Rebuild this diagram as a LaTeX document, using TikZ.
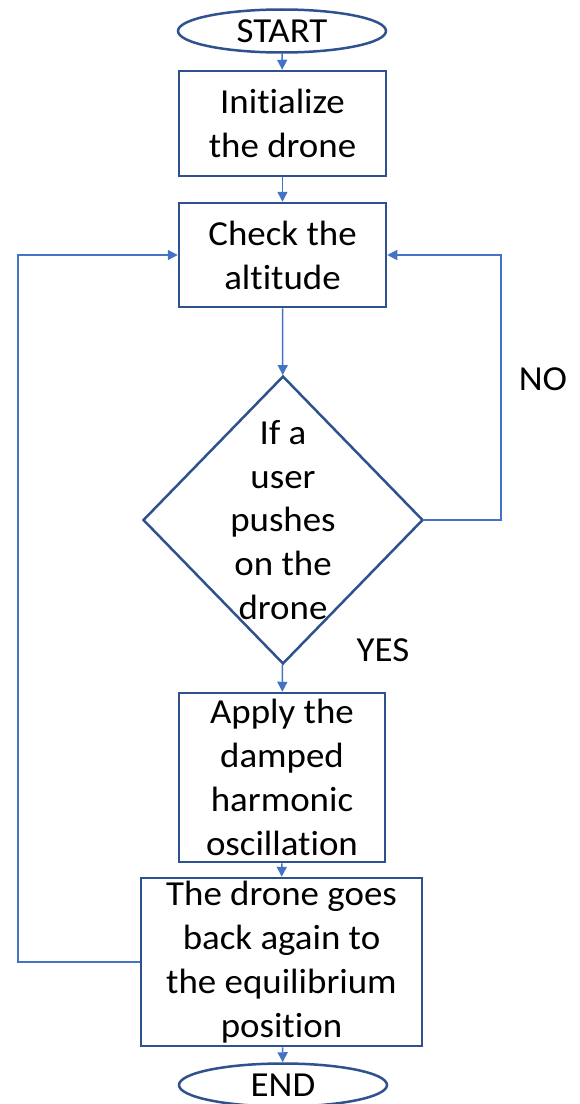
\documentclass[tikz,border=0pt]{standalone}
\usepackage{fontspec}
\setmainfont{Carlito}[Ligatures=NoCommon, FakeStretch=1.05]
\usetikzlibrary{shapes.geometric,arrows.meta}
\definecolor{boxblue}{HTML}{2F528F}
\definecolor{lineblue}{HTML}{4472C4}
\tikzset{
	flowtext/.style={align=center, font=\fontsize{20}{25}\selectfont},
	flowbox/.style={flowtext, draw=boxblue, line width=0.5mm, rectangle, inner sep=0pt},
	terminal/.style={flowtext, draw=boxblue, line width=0.5mm, ellipse, inner sep=0pt},
	decision/.style={draw=boxblue, line width=0.5mm, diamond, inner sep=0pt},
	flow/.style={draw=lineblue, line width=0.3mm, -{Triangle[width=2mm,length=2mm]}}
}

\begin{document}
\begin{tikzpicture}[x=0.2mm, y=-0.2mm]
			%%%%% START %%%%%
			
			\useasboundingbox (0, 0) rectangle (579, 1104);
			
			\node[terminal, minimum width=41.6mm, minimum height=8.6mm] (start) at (282, 31) {START};
			\node[flowbox, minimum width=41.4mm, minimum height=21mm] (init) at (282.5, 123.5) {Initialize\\the drone};
			\node[flowbox, minimum width=41.4mm, minimum height=20.8mm] (check) at (282.5, 255) {Check the\\altitude};
			\node[decision, minimum width=56mm, minimum height=57.6mm, label={[flowtext]center:If a\\user\\pushes\\on the\\drone}] (push) at (283, 520) {};
			\node[flowbox, minimum width=41.2mm, minimum height=33.8mm] (apply) at (282, 777.5) {Apply the\\damped\\harmonic\\oscillation};
			\node[flowbox, minimum width=56.2mm, minimum height=33.6mm] (back) at (281.5, 962) {The drone goes\\back again to\\the equilibrium\\position};
			\node[terminal, minimum width=41.6mm, minimum height=8.6mm] (end) at (283, 1085) {END};
			
			\node[flowtext] (no) at (543, 379) {NO};
			\node[flowtext] (yes) at (383, 650) {YES};
			
			\coordinate (noturn) at (501, 520);
			\coordinate (loopturn) at (18, 962);
			
			\draw[flow] (start) -- (init);
			\draw[flow] (init) -- (check);
			\draw[flow] (check) -- (push);
			\draw[flow] (push) -- (apply);
			\draw[flow] (apply) -- (back);
			\draw[flow] (back) -- (end);
			\draw[flow] (push.east) -- (noturn) |- (check.east);
			\draw[flow] (back.west) -- (loopturn) |- (check.west);
			
			%%%%% END %%%%%
\end{tikzpicture}
\end{document}
